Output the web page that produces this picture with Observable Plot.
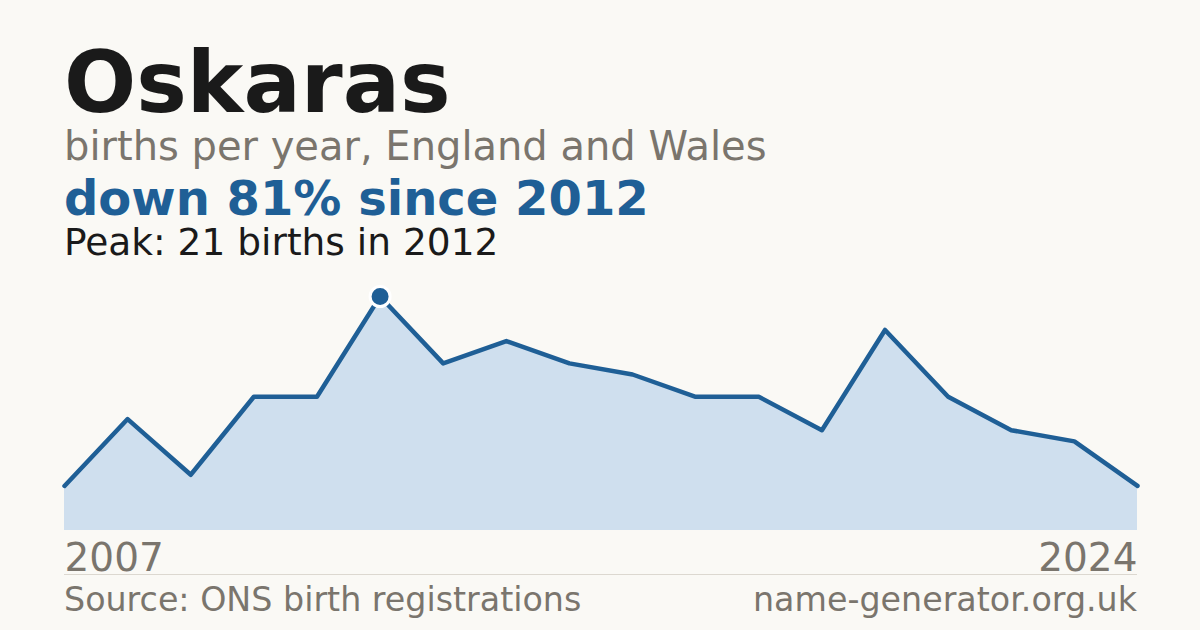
<!DOCTYPE html>
<html>
<head>
<meta charset="utf-8">
<script src="https://cdn.jsdelivr.net/npm/d3@7"></script>
<script src="https://cdn.jsdelivr.net/npm/@observablehq/plot@0.6"></script>
<style>
  html, body { margin: 0; padding: 0; background: #faf9f5; }
  body { width: 1200px; height: 630px; position: relative; overflow: hidden; font-family: "DejaVu Sans", sans-serif; }
  .t { position: absolute; left: 64px; line-height: 0.8; white-space: nowrap; }
  #title { font-size: 85px; font-weight: bold; color: #1a1a1a; top: 48.6px; }
  #sub { font-size: 40px; color: #7a756d; top: 130px; }
  #delta { font-size: 48px; font-weight: bold; color: #1f5f96; top: 179px; }
  #peak { font-size: 37.5px; color: #1a1a1a; top: 227px; }
  #chart { position: absolute; left: 0; top: 270px; }
  #sep { position: absolute; left: 64px; width: 1073px; top: 574px; height: 0; border-top: 1px solid #dcd8d0; }
  #src { font-size: 33.3px; color: #7a756d; top: 586.5px; }
  #site { position: absolute; right: 63px; font-size: 33.3px; color: #7a756d; top: 586.5px; line-height: 0.8; white-space: nowrap; }
</style>
</head>
<body>
<div class="t" id="title">Oskaras</div>
<div class="t" id="sub">births per year, England and Wales</div>
<div class="t" id="delta">down 81% since 2012</div>
<div class="t" id="peak">Peak: 21 births in 2012</div>
<div id="chart"></div>
<div id="sep"></div>
<div class="t" id="src">Source: ONS birth registrations</div>
<div id="site">name-generator.org.uk</div>
<script>
const years = [2007,2008,2009,2010,2011,2012,2013,2014,2015,2016,2017,2018,2019,2020,2021,2022,2023,2024];
const births = [4,10,5,12,12,21,15,17,15,14,12,12,9,18,12,9,8,4];
const peakYear = [2012];
const peakValue = [21];
const firstTick = [2007];
const lastTick = [2024];

const data = years.map((y, i) => ({year: y, births: births[i]}));
const peak = peakYear.map((y, i) => ({year: y, births: peakValue[i]}));

const blue = "#1f5f96";
const chart = Plot.plot({
  width: 1200,
  height: 310,
  marginLeft: 64,
  marginRight: 63,
  marginTop: 26,
  marginBottom: 50,
  style: { background: "transparent", fontFamily: "DejaVu Sans" },
  x: { domain: [years[0], years[years.length - 1]], axis: null },
  y: { domain: [0, d3.max(births)], axis: null },
  marks: [
    Plot.areaY(data, { x: "year", y: "births", fill: "#cfdfee" }),
    Plot.line(data, { x: "year", y: "births", stroke: blue, strokeWidth: 4.5 }),
    Plot.dot(peak, { x: "year", y: "births", r: 10, fill: blue, stroke: "#ffffff", strokeWidth: 3 }),
    Plot.text(firstTick, { x: d => d, y: 0, text: d => String(d), textAnchor: "start", lineAnchor: "bottom", dy: 40, fontSize: 39, fill: "#7a756d" }),
    Plot.text(lastTick, { x: d => d, y: 0, text: d => String(d), textAnchor: "end", lineAnchor: "bottom", dy: 40, fontSize: 39, fill: "#7a756d" })
  ]
});
document.getElementById("chart").appendChild(chart);
</script>
</body>
</html>
